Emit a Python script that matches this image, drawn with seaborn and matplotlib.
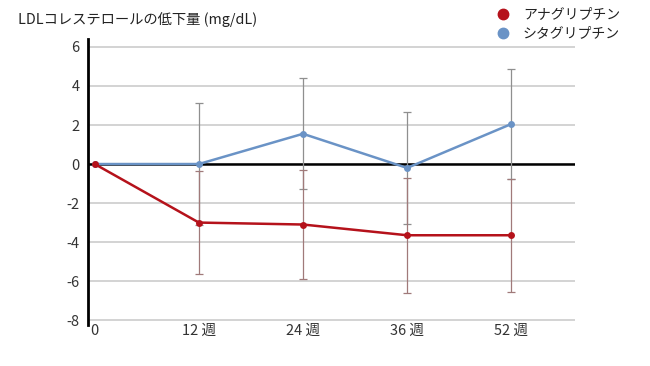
import pandas as pd
import matplotlib
matplotlib.use('Agg')
import matplotlib.pyplot as plt
import seaborn as sns

# dados
semanas = ['0', '12 週', '24 週', '36 週', '52 週']
anagliptina = [0.0, -3.0, -3.1, -3.65, -3.65]
anagliptina_err = [0.0, 2.65, 2.8, 2.95, 2.9]
sitagliptina = [0.0, 0.0, 1.55, -0.2, 2.05]
sitagliptina_err = [0.0, 3.15, 2.85, 2.87, 2.82]
series = ['アナグリプチン', 'シタグリプチン']
cores = ['#b5121b', '#6a93c6']
cores_err = ['#a07a7a', '#8f8f8f']

sns.set_style('white')
plt.rcParams['font.family'] = ['Noto Sans CJK JP', 'DejaVu Sans']
plt.rcParams['axes.unicode_minus'] = False

pos = list(range(len(semanas)))
df = pd.DataFrame({
    'pos': pos * 2,
    'valor': anagliptina + sitagliptina,
    'grupo': [series[0]] * len(pos) + [series[1]] * len(pos),
})

fig = plt.figure(figsize=(6.5, 3.66), dpi=100)
ax = fig.add_axes([0.135, 0.112, 0.75, 0.781])

# linhas de grade
for y in range(-8, 7, 2):
    ax.axhline(y, color='#cccccc', lw=1.2, zorder=0)
ax.axhline(0, color='black', lw=1.8, zorder=1)

# barras de erro
for vals, errs, c in [(sitagliptina, sitagliptina_err, cores_err[1]),
                      (anagliptina, anagliptina_err, cores_err[0])]:
    p = [x for x, e in zip(pos, errs) if e > 0]
    v = [y for y, e in zip(vals, errs) if e > 0]
    e = [e for e in errs if e > 0]
    ax.errorbar(p, v, yerr=e, fmt='none', ecolor=c, elinewidth=0.9,
                capsize=3, capthick=0.9, zorder=2)

sns.lineplot(data=df, x='pos', y='valor', hue='grupo', hue_order=series[::-1],
             palette=cores[::-1], marker='o', markersize=5, markeredgewidth=0,
             linewidth=1.8, ax=ax, legend=False, zorder=3)

ax.set_xlim(-0.067, 4.615)
ax.set_ylim(-8.25, 6.4)
ax.set_xticks(pos)
ax.set_xticklabels(semanas)
ax.set_yticks(range(-8, 7, 2))
ax.tick_params(axis='both', length=0, labelsize=10.5, labelcolor='#333333')
ax.tick_params(axis='y', pad=6)
ax.tick_params(axis='x', pad=-1)
ax.set_xlabel('')
ax.set_ylabel('')
for s in ['top', 'right', 'bottom']:
    ax.spines[s].set_visible(False)
ax.spines['left'].set_color('black')
ax.spines['left'].set_linewidth(2)

fig.text(18 / 650, 1 - 20 / 366, 'LDLコレステロールの低下量 (mg/dL)', fontsize=10.3,
         color='#222222', va='center', ha='left')

# legenda manual
for i, (nome, c) in enumerate(zip(series, cores)):
    yy = 1 - (14 + 19 * i) / 366
    fig.lines.append(plt.Line2D([503 / 650], [yy], marker='o', markersize=7.5,
                                color=c, transform=fig.transFigure))
    fig.text(523 / 650, yy, nome, fontsize=10, color='#222222', va='center', ha='left')

fig.savefig('out.png', dpi=100)
